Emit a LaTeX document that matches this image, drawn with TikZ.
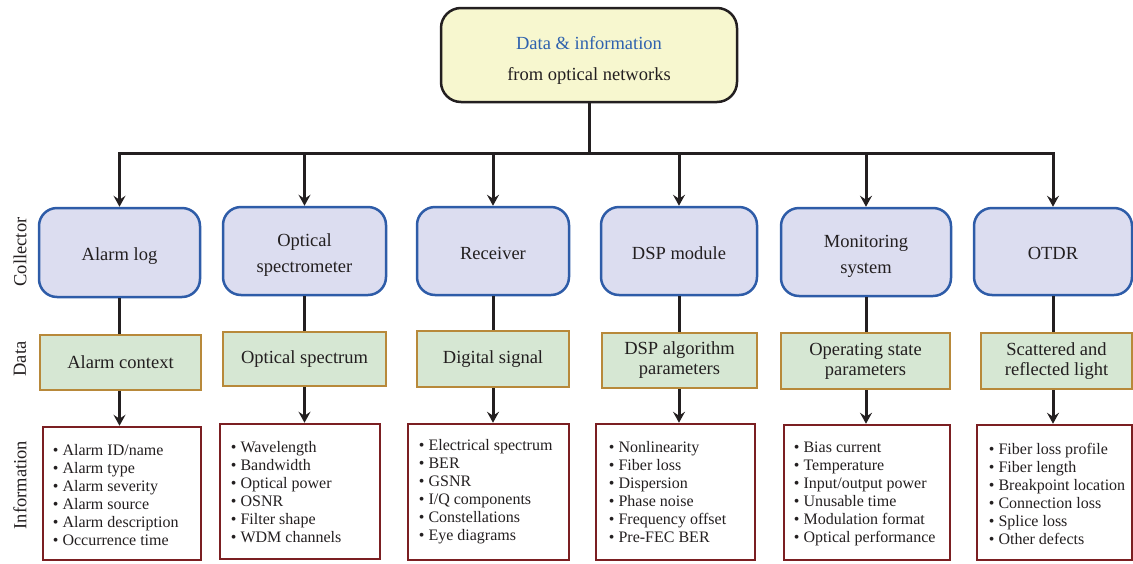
\documentclass[tikz,border=0pt]{standalone}
\usepackage{fontspec}
\setmainfont{Liberation Serif}
\usetikzlibrary{arrows.meta}
\definecolor{txt}{HTML}{231F20}
\definecolor{topfill}{HTML}{F7F7CF}
\definecolor{topblue}{HTML}{2F62AE}
\definecolor{collfill}{HTML}{DCDDF0}
\definecolor{collborder}{HTML}{2E5CA8}
\definecolor{datafill}{HTML}{D6E7D3}
\definecolor{databorder}{HTML}{B8893A}
\definecolor{infoborder}{HTML}{7B1F22}
\begin{document}
\begin{tikzpicture}[x=1pt,y=-1pt,
  every node/.style={text=txt},
  topbox/.style={draw=txt, line width=2.5pt, fill=topfill, rounded corners=20pt, align=center, inner sep=0pt, font=\fontsize{18.5}{31}\selectfont},
  collbox/.style={draw=collborder, fill=collfill, line width=2.5pt, rounded corners=18pt, align=center, inner sep=0pt, font=\fontsize{18.5}{26}\selectfont},
  databox/.style={draw=databorder, fill=datafill, line width=2.5pt, align=center, inner sep=0pt, font=\fontsize{18.5}{20}\selectfont},
  infobox/.style={draw=infoborder, fill=white, line width=2.5pt, inner sep=0pt},
  listtext/.style={anchor=west, align=left, inner sep=0pt, font=\fontsize{16}{18}\selectfont},
  conn/.style={draw=txt, line width=3pt},
  arr/.style={conn, -{Stealth[length=11pt,width=12pt,inset=4pt]}},
  sidelabel/.style={rotate=90, inner sep=0pt, font=\fontsize{18.5}{20}\selectfont}]
\useasboundingbox (0,0) rectangle (1133,563);

% top box
\node[topbox, minimum width=296pt, minimum height=94pt] (top) at (589,55)
  {\rule{0pt}{23pt}\textcolor{topblue}{Data \& information}\\from optical networks};

% collectors
\node[collbox, minimum width=161pt, minimum height=89pt] (c1) at (119.5,252.5) {\rule{0pt}{20pt}Alarm log};
\node[collbox, minimum width=163pt, minimum height=88pt] (c2) at (304.5,251) {\rule{0pt}{20pt}Optical\\spectrometer};
\node[collbox, minimum width=152pt, minimum height=88pt] (c3) at (493,251) {\rule{0pt}{18pt}Receiver};
\node[collbox, minimum width=156pt, minimum height=88pt] (c4) at (679,251) {\rule{0pt}{18pt}DSP module};
\node[collbox, minimum width=170pt, minimum height=88pt] (c5) at (866,252) {\rule{0pt}{20pt}Monitoring\\system};
\node[collbox, minimum width=158pt, minimum height=87pt] (c6) at (1053,251.5) {\rule{0pt}{16pt}OTDR};

% data
\node[databox, minimum width=161pt, minimum height=55pt] (d1) at (120.5,362.5) {Alarm context};
\node[databox, minimum width=163pt, minimum height=54pt] (d2) at (304.5,359) {Optical spectrum};
\node[databox, minimum width=152pt, minimum height=56pt] (d3) at (493,359) {Digital signal};
\node[databox, minimum width=155pt, minimum height=55pt] (d4) at (679.5,360.5) {DSP algorithm\\parameters};
\node[databox, minimum width=169pt, minimum height=56pt] (d5) at (865.5,361) {Operating state\\parameters};
\node[databox, minimum width=151pt, minimum height=56pt] (d6) at (1056.5,361) {Scattered and\\reflected light};

% information
\node[infobox, minimum width=158pt, minimum height=133pt] (i1) at (122,493.5) {};
\node[infobox, minimum width=160pt, minimum height=135pt] (i2) at (300,491.5) {};
\node[infobox, minimum width=161pt, minimum height=136pt] (i3) at (488.5,492) {};
\node[infobox, minimum width=159pt, minimum height=136pt] (i4) at (675.5,492) {};
\node[infobox, minimum width=166pt, minimum height=135pt] (i5) at (867,492.5) {};
\node[infobox, minimum width=155pt, minimum height=135pt] (i6) at (1054.5,492.5) {};

\node[listtext] (l1) at ([xshift=11pt,yshift=-1.5pt]i1.west) {• Alarm ID/name\\• Alarm type\\• Alarm severity\\• Alarm source\\• Alarm description\\• Occurrence time};
\node[listtext] (l2) at ([xshift=12pt,yshift=-1pt]i2.west) {• Wavelength\\• Bandwidth\\• Optical power\\• OSNR\\• Filter shape\\• WDM channels};
\node[listtext] (l3) at ([xshift=12pt]i3.west) {• Electrical spectrum\\• BER\\• GSNR\\• I/Q components\\• Constellations\\• Eye diagrams};
\node[listtext] (l4) at ([xshift=14pt]i4.west) {• Nonlinearity\\• Fiber loss\\• Dispersion\\• Phase noise\\• Frequency offset\\• Pre-FEC BER};
\node[listtext] (l5) at ([xshift=11pt,yshift=-1pt]i5.west) {• Bias current\\• Temperature\\• Input/output power\\• Unusable time\\• Modulation format\\• Optical performance};
\node[listtext] (l6) at ([xshift=13pt,yshift=-1pt]i6.west) {• Fiber loss profile\\• Fiber length\\• Breakpoint location\\• Connection loss\\• Splice loss\\• Other defects};

% side labels
\node[sidelabel] (s1) at (20,252) {Collector};
\node[sidelabel] (s2) at (20,359) {Data};
\node[sidelabel] (s3) at (20,485) {Information};

% bus
\coordinate (bus) at (589,153.5);
\draw[conn] (top.south) -- (bus);
\draw[conn, line cap=rect] (bus -| c1.north) -- (bus -| c6.north);
\foreach \c in {c1,c2,c3,c4,c5,c6}{
  \draw[arr] (bus -| \c.north) -- (\c.north);
}
\foreach \n in {1,...,6}{
  \draw[conn] (c\n.south) -- (c\n.south |- d\n.north);
  \draw[arr] (c\n.south |- d\n.south) -- (c\n.south |- i\n.north);
}
\end{tikzpicture}
\end{document}
